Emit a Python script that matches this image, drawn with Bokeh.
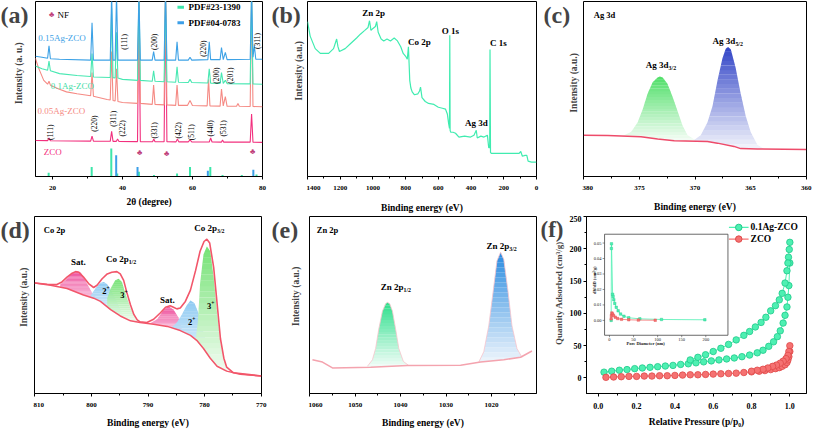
import numpy as np
from bokeh.plotting import figure
from bokeh.models import Range1d, FixedTicker, Label, PrintfTickFormatter
from bokeh.layouts import row, column
from bokeh.embed import file_html
from bokeh.resources import INLINE
from bokeh.core.properties import value

FONT = "Liberation Serif"

# ======================= DATA =======================
zco_x = [15.1, 18.6, 19.0, 19.4, 30.9, 31.3, 31.7, 36.5, 36.9, 37.3, 38.2, 38.6, 39.0, 44.3, 44.7, 45.1,
         48.6, 48.95, 49.3, 51.9, 52.3, 52.7, 55.3, 55.7, 56.1, 58.8, 59.3, 59.8, 64.8, 65.2, 65.6,
         68.3, 68.6, 68.9, 76.5, 76.9, 77.3, 80.0]
zco_y = [37.5, 37.3, 40.0, 37.2, 36.8, 42.0, 36.7, 36.6, 47.0, 36.5, 36.5, 39.0, 36.5, 36.3, 190, 36.3,
         36.2, 39.0, 36.2, 36.1, 190, 36.1, 36.0, 39.0, 36.0, 36.0, 38.0, 36.0, 35.9, 40.0, 35.9,
         35.8, 38.0, 35.8, 35.7, 65.0, 35.7, 35.5]
s05_x = [15.1, 16.0, 17.5, 18.6, 19.0, 19.4, 21.8, 24.0, 27.0, 30.9, 31.3, 31.7, 35.6, 36.5, 36.9, 37.3,
         37.9, 38.3, 38.7, 40.0, 44.3, 44.7, 45.1, 48.5, 48.9, 49.3, 51.9, 52.3, 52.7, 55.2, 55.6, 56.0,
         58.6, 59.3, 60.0, 64.2, 64.6, 65.0, 67.9, 68.3, 68.8, 69.4, 69.9, 72.6, 73.0, 73.4, 76.5, 76.9,
         77.3, 80.0]
s05_y = [123, 113, 100, 96, 99, 95, 91, 88, 86, 84, 108, 83.5, 80, 79.5, 130, 79,
         78.5, 112, 78, 77, 76, 190, 76, 75, 95, 75, 74.5, 190, 74.5, 74, 95, 74,
         74, 79, 73.8, 73.5, 101, 73.5, 73.2, 91, 73.5, 83, 73, 73, 76, 73, 72.8, 190,
         72.8, 72.5]
s10_x = [15.1, 17.0, 18.6, 19.0, 19.4, 22.0, 27.0, 30.9, 31.3, 31.7, 36.5, 36.9, 37.3, 37.9, 38.3, 38.7,
         40.0, 44.3, 44.7, 45.1, 48.5, 48.9, 49.3, 51.9, 52.3, 52.7, 55.2, 55.6, 56.0, 58.8, 59.3, 59.8,
         64.4, 64.8, 65.2, 67.9, 68.3, 68.8, 69.4, 69.9, 76.5, 76.9, 77.3, 80.0]
s10_y = [115, 112, 110.5, 120, 110, 107, 105, 104, 128, 103.5, 103, 175, 102.8, 102.6, 150, 102.4,
         101, 100, 190, 100, 99, 110, 99, 98.5, 190, 98.5, 98, 114, 98, 97.8, 101, 97.7,
         97.2, 112, 97, 96.8, 108, 96.8, 100, 96.6, 96.3, 190, 96.2, 96]
s15_x = [15.1, 17.0, 18.6, 19.0, 19.4, 22.0, 30.9, 31.3, 31.7, 36.5, 36.9, 37.3, 37.9, 38.3, 38.7, 40.0,
         44.3, 44.7, 45.1, 48.5, 48.9, 49.3, 51.9, 52.3, 52.7, 55.2, 55.6, 56.0, 58.8, 59.3, 59.8,
         64.4, 64.8, 65.2, 67.9, 68.3, 68.8, 69.4, 69.9, 76.5, 76.9, 77.3, 77.7, 78.1, 80.0]
s15_y = [125, 124, 123, 136, 122.5, 122, 121, 160, 121, 121, 190, 121, 121, 190, 121, 121,
         121, 190, 121, 121, 130, 121, 121, 190, 121, 121, 140, 121, 121, 124, 121,
         121.5, 140, 121.5, 121.5, 134, 121.5, 129, 121.5, 122, 190, 124, 136, 122, 122]
pdf23_x = [18.9, 31.2, 36.8, 38.5, 44.7, 49.0, 55.6, 59.3, 65.1, 68.6, 74.1, 78.3]
pdf23_h = [4, 10, 29, 3, 5, 1.5, 3, 10, 10, 1.5, 1.5, 2]
pdf04_x = [38.2, 44.3, 64.4, 77.4]
pdf04_h = [22, 10, 6, 7]
nf_x = [44.9, 52.6, 77.2]
nf_y = [25, 24, 26]

b_be = [1400, 1384, 1353, 1322, 1271, 1241, 1222, 1214, 1205, 1170, 1138, 1100, 1077, 1050, 1030, 1021,
        1012, 1000, 985, 977, 968, 950, 934, 914, 893, 870, 850, 830, 815, 800, 790, 783,
        779, 775, 768, 760, 746, 725, 715, 709, 700, 680, 660, 627, 600, 575, 556, 545,
        537, 532, 530, 528, 524, 510, 495, 474, 440, 403, 382, 368, 362, 340, 321, 300,
        292, 286, 284, 281, 276, 240, 198, 150, 106, 96, 86, 70, 59, 51, 30, 14, 0]
b_int = [161, 146, 133, 128, 128, 133, 143, 135, 130, 133, 138, 144, 148, 152, 155, 162,
         152, 154, 156, 161, 150, 143, 141, 143, 141, 144, 141, 135, 128, 125, 122, 135,
         118, 100, 92, 88, 85, 86, 89, 93, 82, 78, 76, 75, 72, 71, 70, 65,
         55, 50, 147, 48, 46, 46, 45, 41, 42, 41, 43, 48, 40, 42, 41, 43,
         30, 30, 132, 25, 24, 24, 24, 24, 24, 26, 21, 22, 22, 16, 15, 15, 15]

c_bg_x = [380, 377.85, 374.86, 373.36, 371.87, 368.88, 367.98, 366.49, 365.89, 364.39, 360]
c_bg_y = [43, 42.7, 41.3, 39, 37.3, 36.3, 34.7, 31.3, 29, 28.7, 28]
c_g_x = [376.5, 375.75, 375.16, 374.71, 374.26, 373.81, 373.36, 373.15, 372.91, 372.47, 372.02,
         371.57, 371.12, 370.67, 369.98]
c_g_y = [42.3, 46.3, 56.3, 69.7, 86.3, 98, 103, 104, 103, 96.3, 83, 68, 53, 43, 38]
c_b_x = [370.07, 369.48, 368.88, 368.43, 367.98, 367.53, 367.23, 367.02, 366.78, 366.34, 365.89,
         365.44, 364.99, 364.39, 363.79]
c_b_y = [38, 43, 56.3, 73, 99.7, 123, 133, 134.7, 132.3, 113, 86.3, 63, 46.3, 33, 28.7]

d_env_x = [810.0, 807.8, 806.1, 805.2, 804.3, 803.4, 802.8, 802.2, 801.4, 800.5, 799.6, 799.0, 798.1,
           797.2, 796.4, 795.5, 794.9, 794.3, 793.7, 793.1, 792.5, 791.9, 791.4, 790.2, 789.0, 787.8,
           786.9, 786.1, 785.5, 784.9, 784.3, 783.4, 782.5, 781.6, 780.8, 780.1, 779.6, 779.1, 778.4,
           777.8, 777.2, 776.6, 776.1, 774.9, 772.5, 770.0]
d_env_y = [113.7, 112.3, 112.0, 114.7, 119.7, 123.7, 125.3, 124.7, 119.7, 113.0, 109.0, 111.3, 118.0,
           123.0, 124.7, 125.3, 123.0, 116.3, 103.0, 91.3, 81.3, 75.7, 73.7, 73.0, 76.3, 83.0,
           88.7, 90.3, 88.7, 87.0, 88.0, 94.7, 106.3, 126.3, 146.3, 156.3, 158.7, 154.7, 129.7,
           93.0, 56.3, 36.3, 27.0, 21.3, 19.7, 18.0]
d_bg_x = [810, 807.2, 804.3, 801.4, 799.6, 798.4, 796.6, 794.9, 793.1, 791.4, 789.0, 786.6, 784.3,
          782.5, 781.4, 780.2, 779.0, 777.8, 776.1, 773.7, 770.0]
d_bg_y = [113.7, 111.3, 108.0, 101.3, 98.0, 94.7, 86.3, 79.7, 74.7, 73.0, 71.3, 69.0, 64.7,
          59.7, 54.7, 46.3, 36.3, 28.0, 23.0, 19.7, 18.0]
d_sat1_x = [805.5, 804.6, 803.7, 803.0, 802.5, 801.9, 801.4, 800.6, 799.9, 799.3]
d_sat1_y = [112.3, 116.3, 122.0, 125.0, 125.7, 124.3, 119.7, 111.3, 103.7, 99.7]
d_c2a_x = [800.2, 799.3, 798.4, 797.8, 797.2, 796.4, 795.5, 794.9, 794.3]
d_c2a_y = [100, 108, 113.7, 114.7, 112.3, 104.7, 94.7, 86.3, 80]
d_c3a_x = [797.2, 796.6, 795.8, 795.2, 794.6, 794.0, 793.1, 792.2, 791.4]
d_c3a_y = [98, 108, 116.3, 118, 114.7, 103, 88, 78, 73]
d_sat2_x = [789.6, 788.4, 787.2, 786.4, 785.5, 784.6, 784.0]
d_sat2_y = [72.3, 76.3, 86.3, 89.7, 86.3, 78, 66]
d_c2b_x = [785.8, 784.9, 784.0, 783.2, 782.5, 781.8, 781.1, 780.2, 779.3, 778.4]
d_c2b_y = [68, 73, 81.3, 90.3, 95.7, 93, 83, 63, 46.3, 34.7]
d_c3b_x = [781.6, 781.2, 780.8, 780.2, 779.6, 779.0, 778.4, 777.8, 777.2, 776.6, 775.9]
d_c3b_y = [54.7, 73, 113, 143, 151.3, 146.3, 119.7, 83, 51.3, 34.7, 24.7]

e_bg_x = [1059.4, 1057.2, 1055.0, 1046.6, 1038.5, 1026.8, 1022.4, 1017.3, 1013.6, 1011.1]
e_bg_y = [34.7, 32.3, 26.3, 27.0, 28.7, 29.0, 32.3, 34.7, 37.3, 43.7]
e_g_x = [1047.3, 1046.2, 1045.5, 1044.8, 1044.0, 1043.3, 1042.9, 1042.4, 1041.8, 1041.1, 1040.4,
         1039.4, 1038.2]
e_g_y = [28, 34.7, 46.3, 66.3, 84.7, 92.3, 93.7, 92.3, 84.7, 66.3, 46.3, 33, 28.7]
e_b_x = [1022.8, 1021.7, 1020.6, 1019.6, 1018.8, 1018.0, 1017.3, 1016.4, 1015.5, 1014.4, 1013.3]
e_b_y = [32.3, 43, 69.7, 106.3, 136.3, 145.3, 138, 106.3, 69.7, 46.3, 37.3]

g_ads_x = [0.03, 0.07, 0.11, 0.15, 0.19, 0.23, 0.27, 0.31, 0.35, 0.39, 0.43, 0.47, 0.51, 0.55, 0.59,
           0.63, 0.67, 0.71, 0.75, 0.79, 0.83, 0.86, 0.89, 0.915, 0.935, 0.95, 0.965, 0.975, 0.985,
           0.99, 0.995, 1.0]
g_ads_y = [9, 10.5, 12, 13, 14.5, 15.5, 16.5, 17.5, 18.5, 19.5, 21, 22, 23.5, 25, 26.5,
           28, 29.5, 31, 33, 35.5, 39, 43, 49, 56, 64, 73, 85, 97, 110,
           125, 143, 178]
g_des_x = [1.0, 0.997, 0.993, 0.99, 0.985, 0.975, 0.96, 0.945, 0.925, 0.90, 0.875, 0.85, 0.82, 0.79,
           0.76, 0.72, 0.68, 0.64, 0.60, 0.56, 0.52, 0.48]
g_des_y = [210, 199, 187, 178, 166, 147, 131, 121, 112, 104, 94, 86, 79, 72,
           66, 59, 52, 46, 41, 36, 32, 28]
r_ads_x = [0.04, 0.08, 0.12, 0.16, 0.20, 0.24, 0.28, 0.32, 0.36, 0.40, 0.44, 0.48, 0.52, 0.56, 0.60,
           0.64, 0.68, 0.72, 0.76, 0.80, 0.84, 0.87, 0.90, 0.925, 0.945, 0.96, 0.975, 0.985, 0.99,
           0.995, 1.0]
r_ads_y = [1, 1.5, 2, 2.5, 2.5, 3, 3, 3.5, 3.5, 4, 4.5, 5, 5, 5.5, 6,
           6.5, 7, 7.5, 8.5, 9.5, 10.5, 11.5, 13, 14.5, 16, 18, 20.5, 24, 28,
           33, 41]
r_des_x = [1.0, 0.995, 0.99, 0.98, 0.965, 0.95, 0.93, 0.91, 0.885, 0.86, 0.83, 0.80]
r_des_y = [50, 41, 35, 30, 26, 23, 20, 18, 15.5, 13.5, 12, 10.5]
g_pd_x = [3.5, 4.0, 4.2, 6.5, 7.5, 9, 11, 14, 18, 23, 30, 40, 63, 108, 198]
g_pd_y = [0.0, 0.0465, 0.0495, 0.0169, 0.0155, 0.0134, 0.0110, 0.0085, 0.0062, 0.0041, 0.0027,
          0.0017, 0.0010, 0.0006, 0.0004]
r_pd_x = [3.5, 4.0, 5.0, 6.5, 8.5, 12, 17, 25, 40, 60, 95]
r_pd_y = [0.0010, 0.0031, 0.0048, 0.0041, 0.0031, 0.0021, 0.0012, 0.0007, 0.0004, 0.0002, 0.0001]
inset_xticks = [0, 50, 100, 150, 200]
inset_yticks = [0.00, 0.01, 0.02, 0.03, 0.04, 0.05]

# ======================= HELPERS =======================
H = 215


def mix(c1, c2, t):
    a = [int(c1[i:i + 2], 16) for i in (1, 3, 5)]
    b = [int(c2[i:i + 2], 16) for i in (1, 3, 5)]
    return "#%02x%02x%02x" % tuple(int(round(a[k] + (b[k] - a[k]) * t)) for k in range(3))


def make_fig(w, xr, yr, bl, br, xticks, xminor, tick_fs="7px", has_y=False):
    p = figure(width=w, height=H, x_range=xr, y_range=yr, output_backend="svg",
               toolbar_location=None, min_border_left=bl, min_border_right=br,
               min_border_top=1, min_border_bottom=32,
               y_axis_location=("left" if has_y else None))
    p.grid.visible = False
    p.outline_line_color = "black"
    p.outline_line_alpha = 1
    p.outline_line_width = 1
    p.background_fill_color = "white"
    p.border_fill_color = "white"
    p.xaxis.ticker = FixedTicker(ticks=xticks, minor_ticks=xminor)
    for ax in p.axis:
        ax.axis_line_color = "black"
        ax.major_tick_line_color = "black"
        ax.minor_tick_line_color = "black"
        ax.major_tick_in = 0
        ax.major_tick_out = 3
        ax.minor_tick_in = 0
        ax.minor_tick_out = 2
        ax.major_label_text_font = FONT
        ax.major_label_text_font_style = "bold"
        ax.major_label_text_font_size = tick_fs
        ax.major_label_text_color = "black"
        ax.major_label_standoff = 6
        ax.axis_label_text_font = FONT
        ax.axis_label_text_font_style = "bold"
        ax.axis_label_text_font_size = "9.5px"
        ax.axis_label_text_color = "black"
    return p


def gutter(w, panel, ytitle, tx, ty, ptx=1, psize=24, tsize=9.5):
    # narrow strip left of a panel frame holding the panel letter and the y-axis title
    g = figure(width=w, height=H, x_range=Range1d(0, w), y_range=Range1d(0, H), output_backend="svg",
               toolbar_location=None, min_border=0, x_axis_location=None, y_axis_location=None)
    g.grid.visible = False
    g.outline_line_color = None
    g.background_fill_color = "white"
    g.border_fill_color = "white"
    g.add_layout(Label(x=ptx, y=H - 16, text=panel, text_font=FONT, text_font_size=f"{psize}px",
                       text_font_style="bold", text_align="left", text_baseline="middle"))
    g.add_layout(Label(x=tx, y=ty, text=ytitle, text_font=FONT, text_font_size=f"{tsize}px",
                       text_font_style="bold", text_align="center", text_baseline="middle",
                       angle=np.pi / 2))
    return g


def lab(p, x, y, text, size=9, color="black", bold=True, align="center", baseline="middle",
        angle=0.0, xo=0, yo=0):
    p.add_layout(Label(x=x, y=y, text=text, text_font=FONT, text_font_size=f"{size}px",
                       text_color=color, text_font_style="bold" if bold else "normal",
                       text_align=align, text_baseline=baseline, angle=angle,
                       x_offset=xo, y_offset=yo))


def sublab(p, x, y, main, sub, size=9, sup=False):
    lab(p, x, y, main, size, align="right")
    lab(p, x, y, sub, round(size * 0.65, 1), align="left", yo=(3 if sup else -3))


def grad(p, xs, top, bgx, bgy, c_top, c_bot, n=22):
    # rendering of a vertical colour gradient between a drawn peak and its background
    xs = np.asarray(xs, float)
    top = np.asarray(top, float)
    o = np.argsort(xs)
    xs, top = xs[o], top[o]
    bx = np.asarray(bgx, float)
    by = np.asarray(bgy, float)
    ob = np.argsort(bx)
    xd = np.linspace(xs[0], xs[-1], 240)
    td = np.interp(xd, xs, top)
    bd = np.interp(xd, bx[ob], by[ob])
    td = np.maximum(td, bd)
    lo, hi = bd.min(), td.max()
    levels = np.linspace(lo, hi, n + 1)
    for k in range(n):
        y1 = np.maximum(bd, np.minimum(td, levels[k]))
        y2 = np.maximum(bd, np.minimum(td, levels[k + 1] + 0.15))
        col = mix(c_bot, c_top, (k + 0.5) / n)
        p.varea(x=xd, y1=y1, y2=y2, fill_color=col, fill_alpha=1)


# ======================= PANEL (a) =======================
ga = gutter(34, "(a)", "Intensity (a. u.)", 18, 127, ptx=0)
pa = make_fig(236, Range1d(15.14, 80.02), Range1d(0, 182), 1, 8, [20, 40, 60, 80], [30, 50, 70])
pa.xaxis.axis_label = "2θ (degree)"
pa.xaxis.axis_label_standoff = 4
ax_ = lambda px: 20 + (px - 52) / 3.5
C23, C04 = "#3de6aa", "#3c9fe8"
pa.segment(x0=pdf23_x, y0=[0] * len(pdf23_x), x1=pdf23_x, y1=pdf23_h, line_color=C23, line_width=2)
pa.segment(x0=pdf04_x, y0=[0] * len(pdf04_x), x1=pdf04_x, y1=pdf04_h, line_color=C04, line_width=2)
CZ, C5, C10, C15 = "#f2307e", "#f58a84", "#48e8b2", "#3da2e6"
pa.line(zco_x, zco_y, line_color=CZ, line_width=1.1)
pa.line(s05_x, s05_y, line_color=C5, line_width=1.1)
pa.line(s10_x, s10_y, line_color=C10, line_width=1.1)
pa.line(s15_x, s15_y, line_color=C15, line_width=1.1)
for x, y in zip(nf_x, nf_y):
    lab(pa, x, y, "♣", 8, color="#c0407a", bold=False)
lab(pa, ax_(51), 168, "♣", 8, color="#c0407a", bold=False)
lab(pa, ax_(57), 168, "NF", 9, bold=False, align="left")
pa.segment(x0=[ax_(177), ax_(177)], y0=[176, 160], x1=[ax_(183.5), ax_(183.5)], y1=[176, 160],
           line_color=[C23, C04], line_width=3)
lab(pa, ax_(188), 176, "PDF#23-1390", 9, align="left")
lab(pa, ax_(188), 160, "PDF#04-0783", 9, align="left")
lab(pa, ax_(61.5), 143.7, "0.15Ag-ZCO", 9, color=C15, bold=False)
lab(pa, ax_(72), 94, "0.1Ag-ZCO", 9, color="#3fdca6", bold=False)
lab(pa, ax_(60.8), 68, "0.05Ag-ZCO", 9, color=C5, bold=False)
lab(pa, ax_(52.3), 26, "ZCO", 9, color=CZ, bold=False)
hkl = [("(111)", 50, 137), ("(220)", 94, 128), ("(311)", 113, 123), ("(222)", 122, 133),
       ("(331)", 154, 135), ("(422)", 178, 135), ("(511)", 191, 137), ("(440)", 210, 133),
       ("(531)", 223, 133), ("(111)", 124, 43), ("(200)", 154, 43), ("(220)", 203, 50),
       ("(311)", 257, 42), ("(200)", 216, 78), ("(201)", 230, 78)]
for t, px, py in hkl:
    lab(pa, ax_(px), 183 - py, t, 7.5, bold=False, angle=np.pi / 2)

# ======================= PANEL (b) =======================
gb = gutter(36, "(b)", "Intensity (a.u.)", 28, 130)
pb = make_fig(234, Range1d(1400.3, -0.3), Range1d(0, 182), 1, 4,
              [1400, 1200, 1000, 800, 600, 400, 200, 0], [1300, 1100, 900, 700, 500, 300, 100])
pb.xaxis.axis_label = "Binding energy (eV)"
pb.xaxis.axis_label_standoff = 10
bx_ = lambda px: 1400 - (px - 307) * 1400 / 229
pb.line(b_be, b_int, line_color="#40ecb0", line_width=1.2)
lab(pb, bx_(373), 170, "Zn 2p", 9)
lab(pb, bx_(419), 140, "Co 2p", 9)
lab(pb, bx_(450), 151, "O 1s", 9)
lab(pb, bx_(498), 139, "C 1s", 9)
lab(pb, bx_(476), 56, "Ag 3d", 9)

# ======================= PANEL (c) =======================
gc = gutter(42, "(c)", "Intensity (a.u.)", 33, 115, ptx=3)
pc = make_fig(230, Range1d(380.03, 359.97), Range1d(0, 182), 1, 6,
              [380, 375, 370, 365, 360], [377.5, 372.5, 367.5, 362.5])
pc.xaxis.axis_label = "Binding energy (eV)"
pc.xaxis.axis_label_standoff = 9
cx_ = lambda px: 380 - (px - 583) * 20 / 223
grad(pc, c_g_x, c_g_y, c_bg_x, c_bg_y, "#4fdf68", "#f6fdf7")
grad(pc, c_b_x, c_b_y, c_bg_x, c_bg_y, "#3144c6", "#f4f5fc")
pc.line(c_bg_x, c_bg_y, line_color="#ee4b6a", line_width=1.5)
lab(pc, cx_(593), 168, "Ag 3d", 8.5, align="left")
sublab(pc, cx_(668), 116.3, "Ag 3d", "3/2", 9)
sublab(pc, cx_(735), 141.3, "Ag 3d", "5/2", 9)

# ======================= PANEL (d) =======================
gd = gutter(33, "(d)", "Intensity (a.u.)", 23, 117, ptx=0)
pd_ = make_fig(237, Range1d(810.05, 769.95), Range1d(0, 182), 1, 9,
               [810, 800, 790, 780, 770], [805, 795, 785, 775])
pd_.xaxis.axis_label = "Binding energy (eV)"
pd_.xaxis.axis_label_standoff = 8
dx_ = lambda px: 810 - (px - 34.3) * 40 / 226.7
PINK, BLUE, GREEN = ("#ee4e9c", "#f9c8e0"), ("#8ecaf2", "#eef7fd"), ("#74e274", "#f2fcf2")
grad(pd_, d_sat1_x, d_sat1_y, d_bg_x, d_bg_y, *PINK)
grad(pd_, d_c2a_x, d_c2a_y, d_bg_x, d_bg_y, *BLUE)
grad(pd_, d_c3a_x, d_c3a_y, d_bg_x, d_bg_y, *GREEN)
grad(pd_, d_sat2_x, d_sat2_y, d_bg_x, d_bg_y, *PINK)
grad(pd_, d_c2b_x, d_c2b_y, d_bg_x, d_bg_y, *BLUE)
grad(pd_, d_c3b_x, d_c3b_y, d_bg_x, d_bg_y, *GREEN)
pd_.line(d_bg_x, d_bg_y, line_color="#f2566a", line_width=1.5)
pd_.line(d_env_x, d_env_y, line_color="#f2566a", line_width=1.6)
lab(pd_, dx_(43.3), 168, "Co 2p", 8.5, align="left")
lab(pd_, dx_(78), 135, "Sat.", 9)
sublab(pd_, dx_(128.3), 138, "Co 2p", "1/2", 9)
sublab(pd_, dx_(106), 105, "2", "+", 8.5, sup=True)
sublab(pd_, dx_(124), 101, "3", "+", 8.5, sup=True)
lab(pd_, dx_(167), 96, "Sat.", 9)
sublab(pd_, dx_(192), 74, "2", "+", 8.5, sup=True)
sublab(pd_, dx_(211), 90, "3", "+", 8.5, sup=True)
sublab(pd_, dx_(216.7), 169.7, "Co 2p", "3/2", 9)

# ======================= PANEL (e) =======================
ge = gutter(38, "(e)", "Intensity (a.u.)", 25, 118)
pe = make_fig(232, Range1d(1060.05, 1010.1), Range1d(0, 182), 1, 4,
              [1060, 1050, 1040, 1030, 1020], [1055, 1045, 1035, 1025, 1015])
pe.xaxis.axis_label = "Binding energy (eV)"
pe.xaxis.axis_label_standoff = 8
ex_ = lambda px: 1060 - (px - 309) * 50 / 227
grad(pe, e_g_x, e_g_y, e_bg_x, e_bg_y, "#2ddf8c", "#f3fdf8")
grad(pe, e_b_x, e_b_y, e_bg_x, e_bg_y, "#2a8be0", "#eef5fc")
pe.line(e_g_x, e_g_y, line_color="#f7c4cc", line_width=0.8)
pe.line(e_b_x, e_b_y, line_color="#f7c4cc", line_width=0.8)
pe.line(e_bg_x, e_bg_y, line_color="#f4a3ae", line_width=1.5)
lab(pe, ex_(316), 168, "Zn 2p", 8.5, align="left")
sublab(pe, ex_(402.7), 109.7, "Zn 2p", "1/2", 9)
sublab(pe, ex_(508.3), 151.3, "Zn 2p", "3/2", 9)

# ======================= PANEL (f) =======================
gf = gutter(26, "(f)", "Quantity Adsorbed (cm³/g)", 18, 122, ptx=0, psize=23, tsize=9)
pf = make_fig(246, Range1d(-0.0615, 1.087), Range1d(-24, 250), 16, 6,
              [0, 0.2, 0.4, 0.6, 0.8, 1.0], [0.1, 0.3, 0.5, 0.7, 0.9], tick_fs="8px", has_y=True)
pf.xaxis.formatter = PrintfTickFormatter(format="%.1f")
pf.yaxis.ticker = FixedTicker(ticks=[0, 50, 100, 150, 200, 250], minor_ticks=[25, 75, 125, 175, 225])
pf.yaxis.major_label_standoff = 2
pf.xaxis.axis_label = "Relative Pressure (p/p₀)"
pf.xaxis.axis_label_standoff = 5
fx_ = lambda px: (px - 594) / 195
fy_ = lambda py: (382 - py) * 50 / 33.25
GF, GL, RF, RL = "#4ef0b2", "#1fc98a", "#f57272", "#e04a4a"
pf.line(g_ads_x, g_ads_y, line_color=GF, line_width=1)
pf.line(g_des_x, g_des_y, line_color=GF, line_width=1)
pf.line(r_ads_x, r_ads_y, line_color=RF, line_width=1)
pf.line(r_des_x, r_des_y, line_color=RF, line_width=1)
pf.scatter(g_ads_x + g_des_x, g_ads_y + g_des_y, marker="circle", size=6.5, fill_color=GF,
           line_color=GL, line_width=0.8)
pf.scatter(r_ads_x + r_des_x, r_ads_y + r_des_y, marker="circle", size=6.5, fill_color=RF,
           line_color=RL, line_width=0.8)
pf.line([fx_(727), fx_(747)], [fy_(227), fy_(227)], line_color=GF, line_width=1.2)
pf.scatter([fx_(737)], [fy_(227)], marker="circle", size=6.5, fill_color=GF, line_color=GL)
pf.line([fx_(727), fx_(747)], [fy_(239), fy_(239)], line_color=RF, line_width=1.2)
pf.scatter([fx_(737)], [fy_(239)], marker="circle", size=6.5, fill_color=RF, line_color=RL)
lab(pf, fx_(749), fy_(227), "0.1Ag-ZCO", 9.5, align="left")
lab(pf, fx_(749), fy_(239), "ZCO", 9.5, align="left")

X0, X1, Y0, Y1 = fx_(600.4), fx_(726), fy_(338), fy_(234)
NX0, NX1, NY0, NY1 = -10.2, 246.0, -0.0096, 0.0557
def _map(a, b, lo, hi, r0, r1):
    return lo + (r0 - a) / (b - a) * (hi - lo), lo + (r1 - a) / (b - a) * (hi - lo)
ixs, ixe = _map(X0, X1, NX0, NX1, -0.0615, 1.087)
iys, iye = _map(Y0, Y1, NY0, NY1, -24, 250)
pf.extra_x_ranges = {"ix": Range1d(ixs, ixe)}
pf.extra_y_ranges = {"iy": Range1d(iys, iye)}
IK = dict(x_range_name="ix", y_range_name="iy")
pf.quad(left=[NX0], right=[NX1], bottom=[NY0], top=[NY1], fill_color="white", line_color="#444444",
        line_width=0.8, **IK)
nxp = (NX1 - NX0) / 125.6
nyp = (NY1 - NY0) / 104.0
pf.segment(x0=inset_xticks, y0=[NY0] * 5, x1=inset_xticks, y1=[NY0 - 2 * nyp] * 5,
           line_color="#444444", line_width=0.6, **IK)
pf.segment(x0=[NX0] * 6, y0=inset_yticks, x1=[NX0 - 2 * nxp] * 6, y1=inset_yticks,
           line_color="#444444", line_width=0.6, **IK)
pf.text(x=inset_xticks, y=[NY0 - 3 * nyp] * 5, text=[str(v) for v in inset_xticks],
        text_font=value(FONT), text_font_size="4.5px", text_align="center", text_baseline="top",
        text_color="#222222", **IK)
pf.text(x=[NX0 - 3 * nxp] * 6, y=inset_yticks, text=["%.2f" % v for v in inset_yticks],
        text_font=value(FONT), text_font_size="4.5px", text_align="right", text_baseline="middle",
        text_color="#222222", **IK)
pf.text(x=[75], y=[NY0 - 8.5 * nyp], text=["Pore Diameter (nm)"], text_font=value(FONT),
        text_font_size="4.5px", text_font_style="bold", text_align="center", text_baseline="middle",
        text_color="#222222", **IK)
pf.text(x=[NX0 - 10 * nxp], y=[0.026], text=["dV/dD (cm³/g)"], text_font=value(FONT),
        text_font_size="4.5px", text_font_style="bold", text_align="center", text_baseline="middle",
        angle=np.pi / 2, text_color="#222222", **IK)
pf.line(g_pd_x, g_pd_y, line_color=GF, line_width=0.8, **IK)
pf.scatter(g_pd_x, g_pd_y, marker="square", size=2.5, fill_color=GF, line_color=GL, line_width=0.4, **IK)
pf.line(r_pd_x, r_pd_y, line_color=RF, line_width=0.8, **IK)
pf.scatter(r_pd_x, r_pd_y, marker="square", size=2.5, fill_color=RF, line_color=RL, line_width=0.4, **IK)

layout = column(row(ga, pa, gb, pb, gc, pc), row(gd, pd_, ge, pe, gf, pf))
open("out.html", "w").write(file_html(layout, INLINE))
